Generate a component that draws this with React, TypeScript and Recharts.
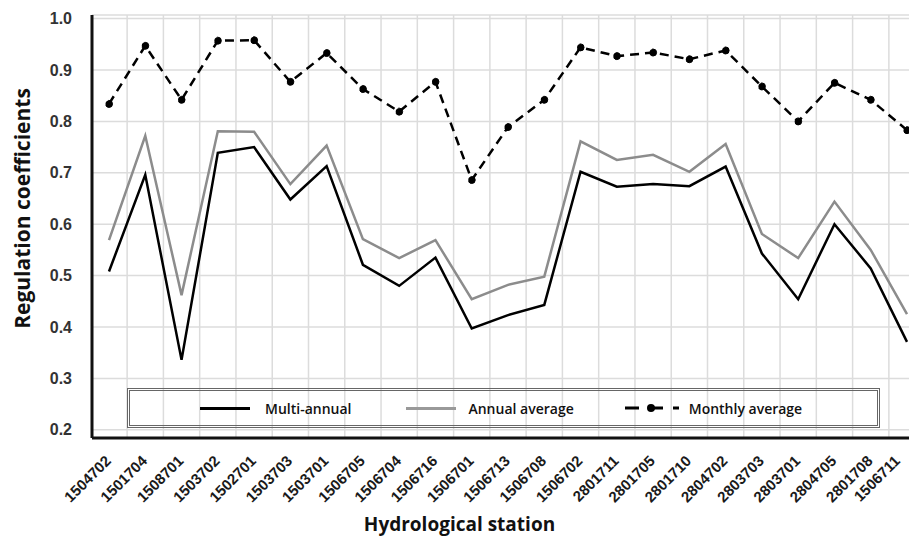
// regulation coefficients per hydrological station
import { LineChart, Line, XAxis, YAxis, CartesianGrid, Legend, Label } from "recharts";

const stations = [
  "1504702", "1501704", "1508701", "1503702", "1502701", "1503703", "1503701", "1506705",
  "1506704", "1506716", "1506701", "1506713", "1506708", "1506702", "2801711", "2801705",
  "2801710", "2804702", "2803703", "2803701", "2804705", "2801708", "1506711",
];

const multiAnnual = [
  0.508, 0.696, 0.336, 0.739, 0.75, 0.648, 0.713, 0.521, 0.48, 0.535, 0.397, 0.423,
  0.443, 0.702, 0.673, 0.678, 0.674, 0.712, 0.543, 0.454, 0.6, 0.514, 0.371,
];

const annualAverage = [
  0.569, 0.772, 0.462, 0.781, 0.78, 0.678, 0.753, 0.571, 0.534, 0.569, 0.454, 0.482,
  0.498, 0.761, 0.725, 0.735, 0.702, 0.756, 0.581, 0.534, 0.644, 0.55, 0.425,
];

const monthlyAverage = [
  0.834, 0.947, 0.842, 0.957, 0.958, 0.877, 0.933, 0.863, 0.819, 0.877, 0.686, 0.789,
  0.842, 0.944, 0.927, 0.934, 0.921, 0.938, 0.868, 0.8, 0.875, 0.842, 0.783,
];

const yTicks = [0.2, 0.3, 0.4, 0.5, 0.6, 0.7, 0.8, 0.9, 1.0];

const data = stations.map((station, i) => ({
  station,
  multi: multiAnnual[i],
  annual: annualAverage[i],
  monthly: monthlyAverage[i],
}));

const Y_MIN = 0.184;
const Y_MAX = 1.007;
const PAD_L = 17;
const PAD_R = 18;
const VIEW_W = 909;

// keep the last rotated label inside the visible page
const XTick = ({ x, y, payload }: any) => {
  const ax = Math.min(x - 1, VIEW_W - 12);
  const ay = y + 12;
  return (
    <text
      x={ax}
      y={ay}
      transform={`rotate(-45 ${ax} ${ay})`}
      textAnchor="end"
      dominantBaseline="central"
      fontFamily="Liberation Sans"
      fontWeight="bold"
      fontSize={15}
      fill="#1a1a1a"
    >
      {payload.value}
    </text>
  );
};

const LegendBox = () => (
  <div
    style={{
      boxSizing: "border-box",
      height: 40,
      border: "3px double #666",
      display: "flex",
      alignItems: "center",
      paddingLeft: 70,
      fontFamily: "Open Sans",
      fontWeight: 600,
      fontSize: 14,
      color: "#111",
    }}
  >
    <span style={{ width: 50, height: 3, background: "#000", marginRight: 15 }} />
    <span style={{ marginRight: 55 }}>Multi-annual</span>
    <span style={{ width: 50, height: 3, background: "#999", marginRight: 12 }} />
    <span style={{ marginRight: 50 }}>Annual average</span>
    <svg width={55} height={10} style={{ marginRight: 10 }}>
      <line x1={0} y1={5} x2={55} y2={5} stroke="#000" strokeWidth={3} strokeDasharray="14 10" strokeDashoffset={-1} />
      <circle cx={27} cy={5} r={4} fill="#000" />
    </svg>
    <span>Monthly average</span>
  </div>
);

export default function App() {
  return (
    <div style={{ position: "absolute", left: 0, top: 0, width: VIEW_W, height: 536, overflow: "hidden", background: "#fff" }}>
      <LineChart width={940} height={536} data={data} margin={{ top: 15, right: 15, left: 0, bottom: 0 }}>
        <CartesianGrid
          stroke="#dcdcdc"
          strokeWidth={1.5}
          verticalCoordinatesGenerator={({ offset }: any) => {
            const step = (offset.width - PAD_L - PAD_R) / (stations.length - 1);
            return stations.slice(0, -1).map((_, i) => offset.left + PAD_L + step * (i + 0.5));
          }}
        />
        <XAxis
          dataKey="station"
          height={98}
          interval={0}
          padding={{ left: PAD_L, right: PAD_R }}
          axisLine={{ stroke: "#111", strokeWidth: 3 }}
          tickLine={false}
          tick={<XTick />}
        >
          <Label
            value="Hydrological station"
            position="insideBottom"
            offset={5}
            dx={-49}
            style={{ fontFamily: "Open Sans", fontWeight: 700, fontSize: 19, fill: "#111" }}
          />
        </XAxis>
        <XAxis
          xAxisId="top"
          orientation="top"
          dataKey="station"
          height={0}
          tick={false}
          tickLine={false}
          axisLine={{ stroke: "#111", strokeWidth: 3 }}
        />
        <YAxis
          width={92}
          domain={[Y_MIN, Y_MAX]}
          ticks={yTicks}
          allowDataOverflow
          tickFormatter={(v: number) => v.toFixed(1)}
          tickLine={false}
          tickSize={6}
          tickMargin={14}
          axisLine={{ stroke: "#111", strokeWidth: 3 }}
          tick={{ fontFamily: "Liberation Sans", fontWeight: "bold", fontSize: 16, fill: "#333" }}
        >
          <Label
            content={({ viewBox }: any) => {
              const cx = viewBox.x + 22;
              const cy = viewBox.y + viewBox.height / 2 - 18;
              return (
                <text
                  x={cx}
                  y={cy}
                  transform={`rotate(-90 ${cx} ${cy})`}
                  textAnchor="middle"
                  dominantBaseline="central"
                  fontFamily="Open Sans"
                  fontWeight={700}
                  fontSize={21}
                  fill="#111"
                >
                  Regulation coefficients
                </text>
              );
            }}
          />
        </YAxis>
        <Legend
          layout="horizontal"
          verticalAlign="middle"
          align="center"
          width={753}
          wrapperStyle={{ left: 127, top: 388, width: 753 }}
          content={<LegendBox />}
        />
        <Line type="linear" dataKey="annual" stroke="#8c8c8c" strokeWidth={2.5} dot={false} isAnimationActive={false} />
        <Line type="linear" dataKey="multi" stroke="#000" strokeWidth={2.5} dot={false} isAnimationActive={false} />
        <Line
          type="linear"
          dataKey="monthly"
          stroke="#000"
          strokeWidth={2.5}
          strokeDasharray="9 6"
          dot={{ r: 3.5, fill: "#000", stroke: "#000", strokeWidth: 1 }}
          isAnimationActive={false}
        />
      </LineChart>
    </div>
  );
}
